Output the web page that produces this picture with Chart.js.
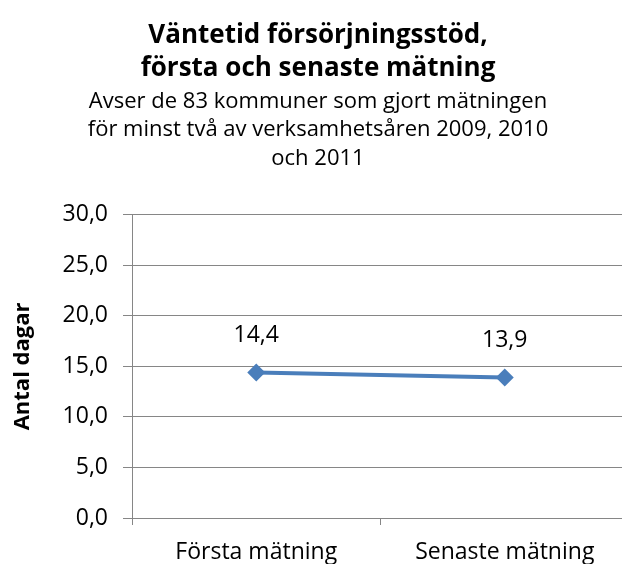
<!DOCTYPE html>
<html>
<head>
<meta charset="utf-8">
<script src="https://cdn.jsdelivr.net/npm/chart.js@4/dist/chart.umd.min.js"></script>
<style>
html,body{margin:0;padding:0;background:#fff;overflow:hidden;}
canvas{display:block;}
</style>
</head>
<body>
<canvas id="c" width="638" height="564" style="width:638px;height:564px"></canvas>
<script>
const categories = ["Första mätning", "Senaste mätning"];
const values = [14.4, 13.9];
const yTicks = [0, 5, 10, 15, 20, 25, 30];
const titleLines = ["Väntetid försörjningsstöd,", "första och senaste mätning"];
const subtitleLines = ["Avser de 83 kommuner som gjort mätningen", "för minst två av verksamhetsåren 2009, 2010", "och 2011"];
const yTitle = "Antal dagar";

const FONT = "'Open Sans', 'Noto Sans', sans-serif";
const fmt = v => v.toFixed(1).replace('.', ',');

const labelPlugin = {
  id: 'valueLabels',
  afterDatasetsDraw(chart) {
    const ctx = chart.ctx;
    const meta = chart.getDatasetMeta(0);
    ctx.save();
    ctx.font = "23px " + FONT;
    ctx.fillStyle = "#000";
    ctx.textAlign = "center";
    ctx.textBaseline = "middle";
    meta.data.forEach((pt, i) => {
      ctx.fillText(fmt(chart.data.datasets[0].data[i]), pt.x, pt.y - 37);
    });
    ctx.restore();
  }
};

new Chart(document.getElementById('c'), {
  type: 'line',
  data: {
    labels: categories,
    datasets: [{
      data: values,
      borderColor: '#4A7EBB',
      backgroundColor: '#4A7EBB',
      borderWidth: 4,
      pointStyle: 'rectRot',
      pointRadius: 9,
      pointHoverRadius: 9,
      pointBorderWidth: 0,
      tension: 0
    }]
  },
  options: {
    responsive: false,
    animation: false,
    devicePixelRatio: 1,
    layout: { padding: { left: 0, right: 2, top: 0, bottom: 0 } },
    plugins: {
      legend: { display: false },
      tooltip: { enabled: false },
      title: {
        display: true,
        text: titleLines,
        color: '#000',
        font: { family: FONT, size: 26, weight: 'bold', lineHeight: 1.27 },
        padding: { top: 19, bottom: 2 }
      },
      subtitle: {
        display: true,
        text: subtitleLines,
        color: '#000',
        font: { family: FONT, size: 22, lineHeight: 1.3 },
        padding: { top: 0, bottom: 42 }
      }
    },
    scales: {
      x: {
        offset: true,
        afterFit(s) { s.height = 46; },
        grid: { display: true, drawOnChartArea: false, offset: true, color: '#868686', tickLength: 7, lineWidth: 1 },
        border: { color: '#868686', width: 1 },
        ticks: { color: '#000', font: { family: FONT, size: 23 }, padding: 14, maxRotation: 0 }
      },
      y: {
        min: 0, max: 30,
        afterFit(s) { s.width = 132; },
        afterBuildTicks(s) { s.ticks = yTicks.map(v => ({ value: v })); },
        grid: { color: '#868686', tickLength: 9, lineWidth: 1 },
        border: { color: '#868686', width: 1 },
        ticks: { color: '#000', font: { family: FONT, size: 23 }, padding: 15, callback: v => fmt(v) },
        title: {
          display: true, text: yTitle, color: '#000',
          font: { family: FONT, size: 22, weight: 'bold' },
          padding: { top: 10, bottom: 0 }
        }
      }
    }
  },
  plugins: [labelPlugin]
});
</script>
</body>
</html>
